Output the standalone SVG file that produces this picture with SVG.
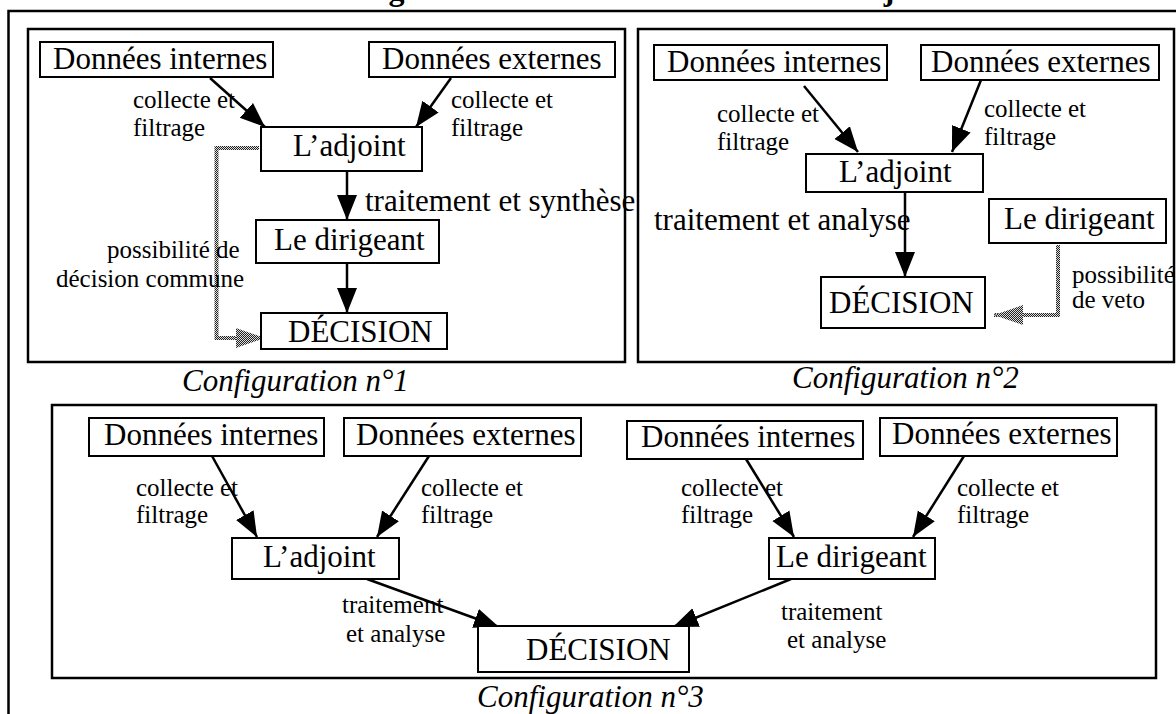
<svg xmlns="http://www.w3.org/2000/svg" width="1176" height="714" viewBox="0 0 1176 714">
<defs>
<style>
.bx{fill:#fff;stroke:#000;stroke-width:2}
.pn{fill:none;stroke:#000;stroke-width:2.5}
.t{font-size:31px;fill:#000}
.l{font-size:25px;fill:#000}
.cf{font-size:31px;font-style:italic;fill:#000}
.ttl{font-size:32px;font-weight:bold;fill:#000}
.ar{fill:none;stroke:#000;stroke-width:2.5;marker-end:url(#ah)}
.gr{fill:none;stroke:url(#hatch);stroke-width:4;marker-end:url(#gh)}
</style>
<pattern id="hatch" width="2" height="2" patternUnits="userSpaceOnUse">
<rect width="2" height="2" fill="#ddd"/>
<rect width="1" height="1" fill="#222"/>
<rect x="1" y="1" width="1" height="1" fill="#222"/>
</pattern>
<marker id="ah" markerUnits="userSpaceOnUse" markerWidth="26" markerHeight="22" refX="25" refY="11" orient="auto" viewBox="0 0 26 22">
<path d="M0,1 L25,11 L0,21 z" fill="#000"/>
</marker>
<marker id="gh" markerUnits="userSpaceOnUse" markerWidth="30" markerHeight="22" refX="29" refY="11" orient="auto" viewBox="0 0 30 22">
<path d="M0,1 L29,11 L0,21 z" fill="url(#hatch)"/>
</marker>
</defs>
<rect width="1176" height="714" fill="#fff"/>
<g font-family="'Liberation Serif', Tinos, 'Times New Roman', 'DejaVu Serif', 'Noto Serif', serif">
<text class="ttl" x="265" y="0">Les configurations du rôle décisionnel de l’adjoint</text>
<rect class="pn" x="8.5" y="11" width="1190" height="720"/>
<g id="panel1">
<rect class="pn" x="28" y="29" width="597" height="333"/>
</g>
<g id="panel2">
<rect class="pn" x="638" y="29" width="536" height="333"/>
</g>
<g id="panel3">
<rect class="pn" x="52" y="405" width="1104" height="273"/>
</g>
<g id="connectors">
<line class="ar" x1="210" y1="78" x2="265" y2="127"/>
<line class="ar" x1="451" y1="78" x2="416" y2="127"/>
<line class="ar" x1="347" y1="171" x2="347" y2="220"/>
<line class="ar" x1="347" y1="263" x2="347" y2="313"/>
<path class="gr" d="M259,148 H216.5 V338 H265"/>
<line class="ar" x1="804" y1="86" x2="858" y2="152"/>
<line class="ar" x1="981" y1="80" x2="952" y2="152"/>
<line class="ar" x1="905" y1="192" x2="905" y2="277"/>
<path class="gr" d="M1058,245 V315 H994"/>
<line class="ar" x1="212" y1="456" x2="257" y2="537"/>
<line class="ar" x1="429" y1="456" x2="377" y2="537"/>
<line class="ar" x1="367" y1="579" x2="499" y2="627"/>
<line class="ar" x1="746" y1="459" x2="794" y2="537"/>
<line class="ar" x1="964" y1="456" x2="913" y2="537"/>
<line class="ar" x1="791" y1="579" x2="673" y2="627"/>
</g>
<g id="labels">
<text class="l" x="133" y="108">collecte et</text>
<text class="l" x="133" y="136">filtrage</text>
<text class="l" x="451" y="108">collecte et</text>
<text class="l" x="451" y="136">filtrage</text>
<text class="t" x="365" y="211">traitement et synthèse</text>
<text class="l" x="107" y="258">possibilité de</text>
<text class="l" x="56" y="287">décision commune</text>
<text class="cf" x="182" y="391">Configuration n°1</text>
<text class="l" x="717" y="122">collecte et</text>
<text class="l" x="717" y="150">filtrage</text>
<text class="l" x="984" y="117">collecte et</text>
<text class="l" x="984" y="145">filtrage</text>
<text class="t" x="654" y="230">traitement et analyse</text>
<text class="l" x="1072" y="283">possibilité</text>
<text class="l" x="1072" y="308">de veto</text>
<text class="cf" x="792" y="388">Configuration n°2</text>
<text class="l" x="136" y="496">collecte et</text>
<text class="l" x="136" y="523">filtrage</text>
<text class="l" x="421" y="496">collecte et</text>
<text class="l" x="421" y="523">filtrage</text>
<text class="l" x="681" y="496">collecte et</text>
<text class="l" x="681" y="523">filtrage</text>
<text class="l" x="957" y="496">collecte et</text>
<text class="l" x="957" y="523">filtrage</text>
<text class="l" x="342" y="613">traitement</text>
<text class="l" x="346" y="642">et analyse</text>
<text class="l" x="781" y="620">traitement</text>
<text class="l" x="787" y="648">et analyse</text>
<text class="cf" x="477" y="707">Configuration n°3</text>
</g>
<g id="p1-di"><rect class="bx" x="40" y="42" width="233" height="35"/><text class="t" x="53" y="69">Données internes</text></g>
<g id="p1-de"><rect class="bx" x="369" y="42" width="246" height="35"/><text class="t" x="382" y="69">Données externes</text></g>
<g id="p1-adj"><rect class="bx" x="261" y="127" width="161" height="44"/><text class="t" x="293" y="156">L’adjoint</text></g>
<g id="p1-dir"><rect class="bx" x="256" y="220" width="183" height="43"/><text class="t" x="274" y="250">Le dirigeant</text></g>
<g id="p1-dec"><rect class="bx" x="261" y="313" width="186" height="36"/><text class="t" x="288" y="342">DÉCISION</text></g>
<g id="p2-di"><rect class="bx" x="654" y="45" width="233" height="35"/><text class="t" x="667" y="72">Données internes</text></g>
<g id="p2-de"><rect class="bx" x="921" y="45" width="238" height="35"/><text class="t" x="931" y="72">Données externes</text></g>
<g id="p2-adj"><rect class="bx" x="806" y="154" width="177" height="38"/><text class="t" x="839" y="182">L’adjoint</text></g>
<g id="p2-dir"><rect class="bx" x="989" y="199" width="177" height="44"/><text class="t" x="1004" y="229">Le dirigeant</text></g>
<g id="p2-dec"><rect class="bx" x="821" y="277" width="164" height="51"/><text class="t" x="829" y="313">DÉCISION</text></g>
<g id="p3-di1"><rect class="bx" x="89" y="418" width="235" height="38"/><text class="t" x="104" y="445">Données internes</text></g>
<g id="p3-de1"><rect class="bx" x="344" y="418" width="237" height="38"/><text class="t" x="356" y="445">Données externes</text></g>
<g id="p3-adj"><rect class="bx" x="232" y="538" width="167" height="41"/><text class="t" x="263" y="567">L’adjoint</text></g>
<g id="p3-dec"><rect class="bx" x="478" y="626" width="211" height="46"/><text class="t" x="526" y="660">DÉCISION</text></g>
<g id="p3-di2"><rect class="bx" x="627" y="421" width="236" height="38"/><text class="t" x="641" y="447">Données internes</text></g>
<g id="p3-de2"><rect class="bx" x="880" y="418" width="237" height="38"/><text class="t" x="892" y="444">Données externes</text></g>
<g id="p3-dir"><rect class="bx" x="769" y="538" width="166" height="41"/><text class="t" x="776" y="567">Le dirigeant</text></g>
</g>
</svg>
